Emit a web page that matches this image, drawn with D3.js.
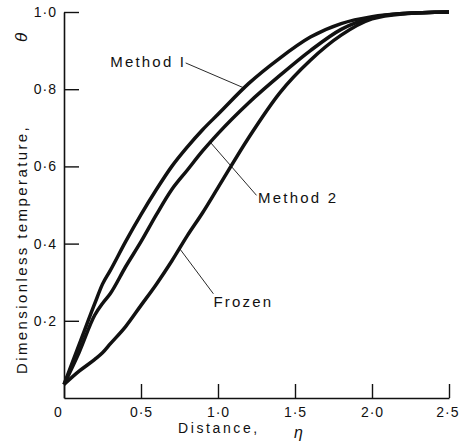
<!DOCTYPE html>
<html>
<head>
<meta charset="utf-8">
<script src="https://cdn.jsdelivr.net/npm/d3@7"></script>
<style>
  html, body { margin: 0; padding: 0; background: #fff; }
  svg { display: block; }
  text { font-family: "Liberation Sans", Arial, sans-serif; fill: #111; }
</style>
</head>
<body>
<svg id="chart" width="459" height="444"></svg>
<script>
// distance eta
const eta = [0, 0.1, 0.2, 0.25, 0.3, 0.4, 0.5, 0.6, 0.7, 0.8, 0.9, 1.0, 1.2, 1.4, 1.6, 1.8, 2.0, 2.2, 2.5];

const method1 = [0.035, 0.14, 0.245, 0.295, 0.33, 0.405, 0.475, 0.54, 0.60, 0.65, 0.695, 0.735, 0.815, 0.88, 0.935, 0.97, 0.988, 0.996, 1.0];
const method2 = [0.035, 0.12, 0.215, 0.245, 0.27, 0.34, 0.405, 0.475, 0.54, 0.59, 0.64, 0.685, 0.765, 0.835, 0.90, 0.955, 0.985, 0.996, 1.0];
const frozen  = [0.035, 0.07, 0.10, 0.117, 0.14, 0.185, 0.24, 0.295, 0.355, 0.42, 0.48, 0.545, 0.675, 0.79, 0.875, 0.94, 0.982, 0.995, 1.0];

const xTicks = [0, 0.5, 1.0, 1.5, 2.0, 2.5];
const yTicks = [0.2, 0.4, 0.6, 0.8, 1.0];

// label text + where it sits and where its leader line touches the curve (data units)
const labels = [
  { text: "Method I", tx: 0.30, ty: 0.858, lx0: 0.79, ly0: 0.868, lx1: 1.17 },
  { text: "Method 2", tx: 1.26, ty: 0.505, lx0: 1.25, ly0: 0.525, lx1: 0.95 },
  { text: "Frozen",   tx: 0.97, ty: 0.237, lx0: 0.97, ly0: 0.27,  lx1: 0.75 }
];
const series = [method1, method2, frozen];

const svg = d3.select("#chart");
const x = d3.scaleLinear().domain([0, 2.5]).range([64, 449]);
const y = d3.scaleLinear().domain([0, 1]).range([398, 12]);

const fmt = d => d === 0 ? "0" : d3.format(".1f")(d).replace(".", "·");

// axes, ticks pointing inward
const gx = svg.append("g")
    .attr("transform", `translate(0,${y(0)})`)
    .call(d3.axisBottom(x).tickValues(xTicks).tickSizeInner(-14).tickSizeOuter(0).tickPadding(9).tickFormat(fmt));
const gy = svg.append("g")
    .attr("transform", `translate(${x(0)},0)`)
    .call(d3.axisLeft(y).tickValues(yTicks).tickSizeInner(-15).tickSizeOuter(0).tickPadding(7).tickFormat(fmt));

[gx, gy].forEach(g => {
  g.select(".domain").attr("stroke", "#111").attr("stroke-width", 1.6);
  g.selectAll(".tick line").attr("stroke", "#111").attr("stroke-width", 1.4);
  g.selectAll(".tick text")
    .attr("font-family", "Liberation Sans, Arial, sans-serif")
    .attr("font-size", 14)
    .attr("fill", "#111")
    .style("letter-spacing", "1px");
});
gx.selectAll(".tick").filter(d => d === 0).select("text").attr("dx", -6);
gx.selectAll(".tick").filter(d => d === 2.5).select("text").attr("text-anchor", "end").attr("dx", 10);

// curves
const line = d3.line()
    .x((d, i) => x(eta[i]))
    .y(d => y(d))
    .curve(d3.curveMonotoneX);

svg.append("g").selectAll("path")
  .data(series)
  .join("path")
  .attr("d", d => line(d))
  .attr("fill", "none")
  .attr("stroke", "#111")
  .attr("stroke-width", 3.5)
  .attr("stroke-linejoin", "round");

// annotations with leader lines
const interp = (arr, e) => {
  const i = d3.bisectRight(eta, e) - 1;
  const t = (e - eta[i]) / (eta[i + 1] - eta[i]);
  return arr[i] + t * (arr[i + 1] - arr[i]);
};

labels.forEach((lb, k) => {
  svg.append("line")
    .attr("x1", x(lb.lx0)).attr("y1", y(lb.ly0))
    .attr("x2", x(lb.lx1)).attr("y2", y(interp(series[k], lb.lx1)))
    .attr("stroke", "#111")
    .attr("stroke-width", 0.9);
  svg.append("text")
    .attr("x", x(lb.tx)).attr("y", y(lb.ty))
    .attr("font-size", 15)
    .style("letter-spacing", "2.2px")
    .text(lb.text);
});

// axis titles
svg.append("text")
  .attr("x", 178).attr("y", 433)
  .attr("font-size", 14)
  .style("letter-spacing", "2.6px")
  .text("Distance,");
svg.append("text")
  .attr("x", 294).attr("y", 438)
  .attr("font-size", 16)
  .attr("font-style", "italic")
  .attr("font-family", "DejaVu Serif, serif")
  .text("η");

svg.append("text")
  .attr("transform", "translate(27,374) rotate(-90)")
  .attr("font-size", 15)
  .style("letter-spacing", "2.4px")
  .text("Dimensionless temperature,");
svg.append("text")
  .attr("transform", "translate(27,42) rotate(-90)")
  .attr("font-size", 17)
  .attr("font-style", "italic")
  .attr("font-family", "DejaVu Serif, serif")
  .text("θ");
</script>
</body>
</html>
